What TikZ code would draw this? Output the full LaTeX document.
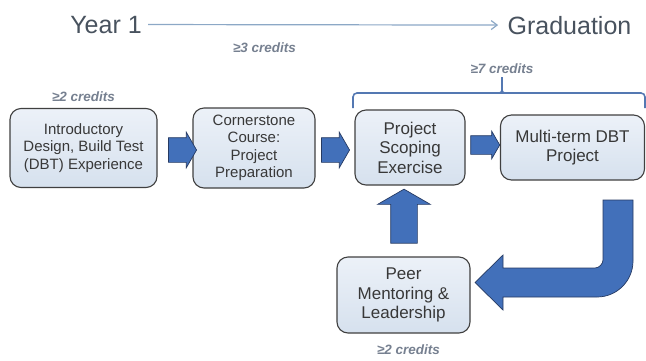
\documentclass[tikz,border=0pt]{standalone}
\usepackage{fontspec}
\setmainfont{Liberation Sans}
\usetikzlibrary{shapes.arrows,arrows.meta,calc,positioning}
\definecolor{boxfill}{RGB}{214,225,238}
\definecolor{boxtop}{RGB}{236,241,248}
\definecolor{arrowblue}{RGB}{66,112,186}
\definecolor{arrowedge}{RGB}{38,58,98}
\definecolor{credgray}{RGB}{118,128,144}
\definecolor{lineblue}{RGB}{140,168,198}
\definecolor{bracecol}{RGB}{84,120,178}
\definecolor{titlegray}{RGB}{72,82,94}

\begin{document}
\begin{tikzpicture}[x=1pt,y=-1pt,
    stage/.style={draw=black!75,line width=1.1pt,rounded corners=11pt,top color=boxtop,bottom color=boxfill,
      align=center,text=black!78,inner sep=2pt},
    smalltext/.style={font=\fontsize{15}{17.5}\selectfont},
    largetext/.style={font=\fontsize{17}{19.5}\selectfont},
    credits/.style={text=credgray,font=\fontsize{13.5}{15}\selectfont\bfseries\itshape},
    title/.style={text=titlegray,font=\fontsize{25}{28}\selectfont,anchor=base},
    blockarrow/.style 2 args={single arrow,draw=arrowedge,fill=arrowblue,line width=0.7pt,
      single arrow tip angle=120,inner xsep=0pt,inner ysep=#1,single arrow head extend=#2},
  ]
  \useasboundingbox (0,0) rectangle (646,360);

  \node[title] (year) at (106,33) {Year 1};
  \node[title] (grad) at (569.5,34) {Graduation};
  \draw[lineblue,line width=1.2pt,-{Straight Barb[length=6pt,width=9pt]},shorten <=3pt,shorten >=6pt]
    (year.east) -- (grad.west);

  \node[stage,smalltext,minimum width=147pt,minimum height=79pt] (intro) at (83.5,148)
    {Introductory\\Design, Build Test\\(DBT) Experience};
  \node[stage,smalltext,minimum width=122pt,minimum height=80pt] (corner) at (254,148)
    {Cornerstone\\Course:\\Project\\Preparation};
  \node[stage,largetext,minimum width=110pt,minimum height=75pt] (scope) at (410,147.5)
    {Project\\Scoping\\Exercise};
  \node[stage,largetext,minimum width=144pt,minimum height=65pt] (multi) at (572.5,147.5)
    {Multi-term DBT\\Project};
  \node[stage,largetext,minimum width=133pt,minimum height=76pt] (peer) at (403.5,295)
    {Peer\\Mentoring \&\\Leadership};

  \node[credits,above=3pt of intro] (credintro) {≥2 credits};
  \node[credits] (credcorner) at (264.5,48) {≥3 credits};
  \node[credits,below=8pt of peer.south,xshift=5pt] (credpeer) {≥2 credits};

  \node[blockarrow={12pt}{5.5pt},minimum height=28pt] (arrowa) at (179,150) {};
  \node[blockarrow={12pt}{5.5pt},minimum height=28pt] (arrowb) at (332,150) {};
  \node[blockarrow={9pt}{4.5pt},minimum height=29pt] (arrowc) at (482.5,145) {};
  \node[blockarrow={13pt}{13pt},minimum height=54pt,rotate=90] (arrowup) at (404,220) {};

  \draw[arrowedge,fill=arrowblue,line width=0.7pt]
    (603,200) -- (633,200) -- (633,261) .. controls (633,280.9) and (616.9,297) .. (597,297)
    -- (503,297) -- (503,310) -- (475,282.5) -- (503,255) -- (503,268) -- (595,268)
    .. controls (599.4,268) and (603,263.6) .. (603,260) -- cycle;

  \coordinate (bracetip) at (502,77);
  \draw[bracecol,line width=1.6pt,rounded corners=4pt] (353,108) -- (353,93) -- (645,93) -- (645,108);
  \draw[bracecol,line width=1.6pt] (496,93) .. controls (502,93) .. (502,86) -- (bracetip);
  \draw[bracecol,line width=1.6pt] (508,93) .. controls (502,93) .. (502,86);
  \node[credits,above=0pt of bracetip] (credmulti) {≥7 credits};
\end{tikzpicture}
\end{document}
